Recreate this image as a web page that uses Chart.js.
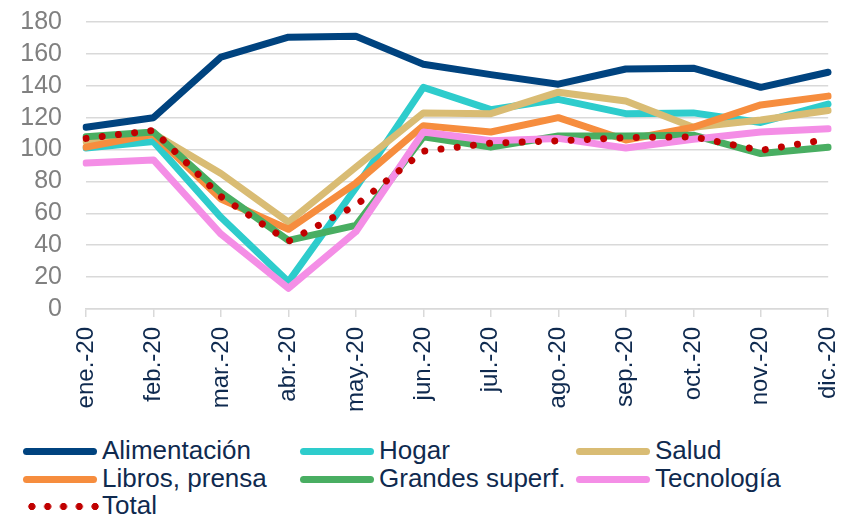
<!DOCTYPE html>
<html>
<head>
<meta charset="utf-8">
<script src="https://cdn.jsdelivr.net/npm/chart.js@4"></script>
<style>
  body { margin: 0; background: #fff; overflow: hidden; }
  #wrap { position: relative; width: 843px; height: 518px; overflow: hidden; }
  #box { position: absolute; left: 0; top: -17px; width: 867px; height: 449px; }
  .item { position: absolute; height: 27px; font: 26px 'Liberation Sans', Arial, sans-serif; color: #0f2a4f; white-space: nowrap; line-height: 27px; }
  .mark { position: absolute; top: 10px; width: 74px; height: 7px; border-radius: 4px; }
  .item span.txt { position: absolute; left: 79px; top: -1px; }
</style>
</head>
<body>
<div id="wrap">
  <div id="box"><canvas id="myChart"></canvas></div>
  <div id="legend"></div>
</div>
<script>
const months = ['ene.-20', 'feb.-20', 'mar.-20', 'abr.-20', 'may.-20', 'jun.-20',
  'jul.-20', 'ago.-20', 'sep.-20', 'oct.-20', 'nov.-20', 'dic.-20'];
const alimentacion = [114, 120, 158, 170.5, 171, 153.5, 147, 141, 150.5, 151, 139, 148.5];
const hogar = [101, 105, 57.5, 17, 76, 139, 125, 131.5, 122.5, 123, 117, 128.5];
const salud = [105, 110, 85, 54.5, 89, 123, 122.5, 136, 130.5, 114, 118.5, 124.5];
const libros = [101.5, 109.5, 69, 50, 79, 115, 111, 120, 106, 114, 128, 133.5];
const grandes = [108, 111, 73, 43, 52.5, 108, 101.5, 108.5, 108.5, 109, 97.5, 101.5];
const tecnologia = [91.5, 93.5, 47, 13, 48.5, 111, 105.5, 107, 101, 106.5, 111, 113];
const total = [107, 112, 70.5, 42.5, 65, 99, 104, 105.5, 107.5, 108, 99.5, 106.5];
const yTicks = [0, 20, 40, 60, 80, 100, 120, 140, 160, 180];

const series = [
  { label: 'Alimentación', data: alimentacion, color: '#00437f' },
  { label: 'Hogar', data: hogar, color: '#2ecccc' },
  { label: 'Salud', data: salud, color: '#d9bc74' },
  { label: 'Libros, prensa', data: libros, color: '#f68d3e' },
  { label: 'Grandes superf.', data: grandes, color: '#49ae62' },
  { label: 'Tecnología', data: tecnologia, color: '#f48ee6' },
  { label: 'Total', data: total, color: '#c00000', dotted: true }
];

const datasets = series.map((s, i) => ({
  label: s.label,
  data: s.data,
  borderColor: s.color,
  backgroundColor: s.color,
  borderWidth: 7,
  borderCapStyle: 'round',
  borderJoinStyle: 'round',
  borderDash: s.dotted ? [0.01, 16.3] : [],
  pointRadius: 0,
  tension: 0,
  fill: false,
  order: series.length - i
}));

const font = { family: "'Liberation Sans', Arial, sans-serif" };

new Chart(document.getElementById('myChart'), {
  type: 'line',
  data: { labels: months, datasets: datasets },
  options: {
    responsive: true,
    maintainAspectRatio: false,
    animation: false,
    layout: { padding: { top: 4, right: 14, left: 0, bottom: 0 } },
    plugins: { legend: { display: false }, tooltip: { enabled: false } },
    scales: {
      x: {
        offset: false,
        grid: { drawOnChartArea: false, drawTicks: true, tickLength: 8, color: '#d9d9d9', lineWidth: 1.5 },
        border: { color: '#d9d9d9', width: 1.5 },
        ticks: {
          minRotation: 90, maxRotation: 90, padding: 10, autoSkip: false,
          color: '#0f2a4f', font: { ...font, size: 24 }
        },
        afterFit: (scale) => { scale.height = 123; }
      },
      y: {
        min: 0, max: 180,
        afterBuildTicks: (scale) => { scale.ticks = yTicks.map(v => ({ value: v })); },
        grid: { drawTicks: false, color: '#d9d9d9', lineWidth: 1.5 },
        border: { display: false },
        ticks: { padding: 24, autoSkip: false, color: '#808080', font: { ...font, size: 25 } },
        afterFit: (scale) => { scale.width = 86; }
      }
    }
  }
});

// legend laid out in three columns like the original
const legend = document.getElementById('legend');
const cols = [23, 300, 576];
series.forEach((s, i) => {
  const item = document.createElement('div');
  item.className = 'item';
  item.style.left = cols[i % 3] + 'px';
  item.style.top = (438 + Math.floor(i / 3) * 27.5) + 'px';
  const mark = document.createElement('span');
  mark.className = 'mark';
  if (s.dotted) {
    mark.style.background = 'radial-gradient(circle, ' + s.color + ' 3.3px, transparent 3.9px) 0 0 / 15.8px 7px repeat-x';
    mark.style.width = '79px';
    mark.style.left = '1px';
  } else {
    mark.style.background = s.color;
  }
  const txt = document.createElement('span');
  txt.className = 'txt';
  txt.textContent = s.label;
  item.appendChild(mark);
  item.appendChild(txt);
  legend.appendChild(item);
});
</script>
</body>
</html>
